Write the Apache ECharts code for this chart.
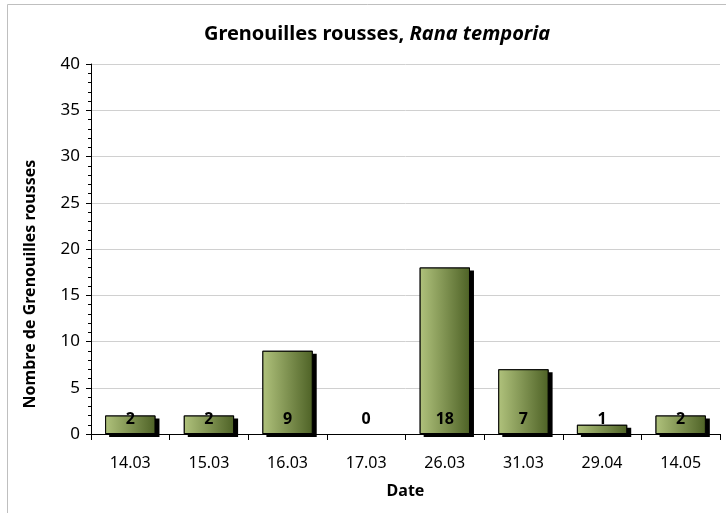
<!DOCTYPE html>
<html>
<head>
<meta charset="utf-8">
<script src="https://cdn.jsdelivr.net/npm/echarts@6/dist/echarts.min.js"></script>
<style>
  html, body { margin: 0; padding: 0; background: #fff; }
  #chart { width: 726px; height: 513px; }
</style>
</head>
<body>
<div id="chart"></div>
<script>
// données
var dates = ['14.03', '15.03', '16.03', '17.03', '26.03', '31.03', '29.04', '14.05'];
var grenouilles = [2, 2, 9, 0, 18, 7, 1, 2];

var font = '"Noto Sans", "Open Sans", sans-serif';

var chart = echarts.init(document.getElementById('chart'));

// pas de contour pour une barre nulle
var barData = grenouilles.map(function (v) {
    return v === 0 ? {value: v, itemStyle: {borderWidth: 0}} : v;
});

var option = {
    backgroundColor: '#fff',
    animation: false,
    title: {
        text: '{n|Grenouilles rousses, }{i|Rana temporia}',
        left: 372,
        textAlign: 'center',
        top: 19,
        textStyle: {
            rich: {
                n: {fontFamily: font, fontSize: 20, fontWeight: 'bold', color: '#000'},
                i: {fontFamily: font, fontSize: 20, fontWeight: 'bold', fontStyle: 'italic', color: '#000'}
            }
        }
    },
    graphic: [{
        type: 'rect',
        shape: {x: 7.5, y: 4.5, width: 740, height: 540},
        style: {fill: 'none', stroke: '#bfbfbf', lineWidth: 1},
        silent: true
    }],
    grid: {left: 91, right: 6, top: 64, bottom: 79},
    xAxis: {
        type: 'category',
        data: dates,
        name: 'Date',
        nameLocation: 'middle',
        nameGap: 49,
        nameTextStyle: {fontFamily: font, fontSize: 16, fontWeight: 'bold', color: '#000'},
        axisLine: {lineStyle: {color: '#000', width: 1}},
        axisTick: {show: true, length: 6, lineStyle: {color: '#000'}},
        axisLabel: {fontFamily: font, fontSize: 16, color: '#000', margin: 21},
        splitLine: {show: false}
    },
    yAxis: {
        type: 'value',
        min: 0,
        max: 40,
        interval: 5,
        name: 'Nombre de Grenouilles rousses',
        nameLocation: 'middle',
        nameGap: 53,
        nameTextStyle: {fontFamily: font, fontSize: 16, fontWeight: 'bold', color: '#000', padding: [0, 0, 0, -70]},
        axisLine: {show: true, lineStyle: {color: '#000', width: 1}},
        axisTick: {show: true, length: 5, lineStyle: {color: '#000'}},
        minorTick: {show: true, splitNumber: 5, length: 3, lineStyle: {color: '#000'}},
        axisLabel: {fontFamily: font, fontSize: 17, color: '#000', margin: 11},
        splitLine: {show: true, lineStyle: {color: '#d0d0d0', width: 1}}
    },
    series: [{
        // ombre portée noire sous les barres
        type: 'bar',
        data: grenouilles,
        barWidth: '64%',
        silent: true,
        itemStyle: {
            color: '#000',
            shadowColor: '#000',
            shadowBlur: 0,
            shadowOffsetX: 4,
            shadowOffsetY: 3
        }
    }, {
        type: 'bar',
        data: barData,
        barWidth: '64%',
        barGap: '-100%',
        itemStyle: {
            color: new echarts.graphic.LinearGradient(0, 0, 1, 0, [
                {offset: 0, color: '#b0c27c'},
                {offset: 1, color: '#4e6226'}
            ]),
            borderColor: '#000',
            borderWidth: 1
        },
        label: {
            show: true,
            position: 'insideBottom',
            distance: 7,
            fontFamily: font,
            fontSize: 16,
            fontWeight: 'bold',
            color: '#000'
        }
    }]
};

chart.setOption(option);
</script>
</body>
</html>
